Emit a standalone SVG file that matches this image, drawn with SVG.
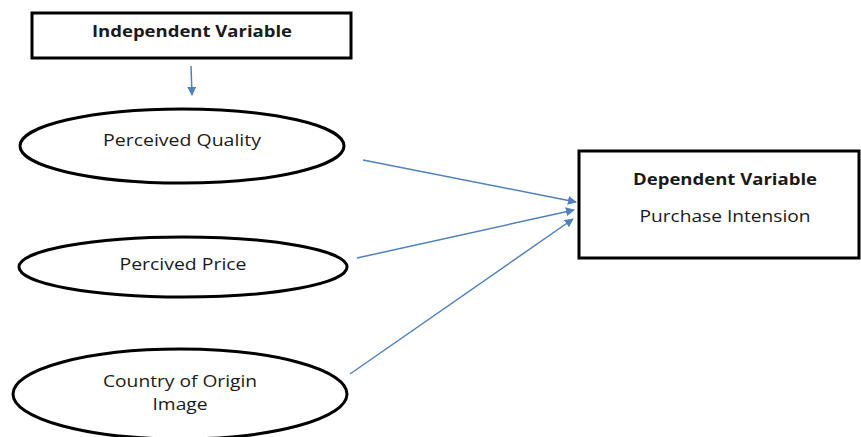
<svg xmlns="http://www.w3.org/2000/svg" width="861" height="437" viewBox="0 0 861 437">
  <style>
    .box { fill: #ffffff; stroke: #000000; stroke-width: 3; }
    .oval { fill: #ffffff; stroke: #000000; stroke-width: 3; }
    .lbl { font-family: "Open Sans", "Liberation Sans", sans-serif; font-size: 16px; fill: #1a1a1a; text-anchor: middle; }
    .bold { font-weight: bold; }
    .link { stroke: #4f81bd; stroke-width: 1.5; fill: none; marker-end: url(#head); }
  </style>
  <defs>
    <marker id="head" viewBox="0 0 10 10" refX="9" refY="5" markerWidth="9" markerHeight="9" markerUnits="userSpaceOnUse" orient="auto">
      <path d="M0,0 L10,5 L0,10 Z" fill="#4f81bd"/>
    </marker>
  </defs>
  <rect width="861" height="437" fill="#ffffff"/>

  <g id="independent">
    <rect class="box" x="32" y="13" width="319" height="45"/>
    <text class="lbl bold" x="192" y="37" textLength="200" lengthAdjust="spacingAndGlyphs">Independent Variable</text>
  </g>

  <g id="quality">
    <ellipse class="oval" cx="182" cy="146" rx="162" ry="37"/>
    <text class="lbl" x="182" y="146" textLength="158" lengthAdjust="spacingAndGlyphs">Perceived Quality</text>
  </g>

  <g id="price">
    <ellipse class="oval" cx="183" cy="267" rx="164" ry="30"/>
    <text class="lbl" x="183" y="270" textLength="127" lengthAdjust="spacingAndGlyphs">Percived Price</text>
  </g>

  <g id="origin">
    <ellipse class="oval" cx="180" cy="394" rx="167" ry="45"/>
    <text class="lbl" x="180" y="387" textLength="154" lengthAdjust="spacingAndGlyphs">Country of Origin</text>
    <text class="lbl" x="180" y="410" textLength="55" lengthAdjust="spacingAndGlyphs">Image</text>
  </g>

  <g id="dependent">
    <rect class="box" x="579" y="151" width="280" height="107"/>
    <text class="lbl bold" x="725" y="185" textLength="184" lengthAdjust="spacingAndGlyphs">Dependent Variable</text>
    <text class="lbl" x="725" y="222" textLength="171" lengthAdjust="spacingAndGlyphs">Purchase Intension</text>
  </g>

  <g id="connectors">
    <line class="link" x1="191" y1="66" x2="192" y2="95"/>
    <line class="link" x1="363" y1="160" x2="576" y2="202"/>
    <line class="link" x1="357" y1="258" x2="574" y2="210"/>
    <line class="link" x1="350" y1="374" x2="573" y2="219"/>
  </g>
</svg>
